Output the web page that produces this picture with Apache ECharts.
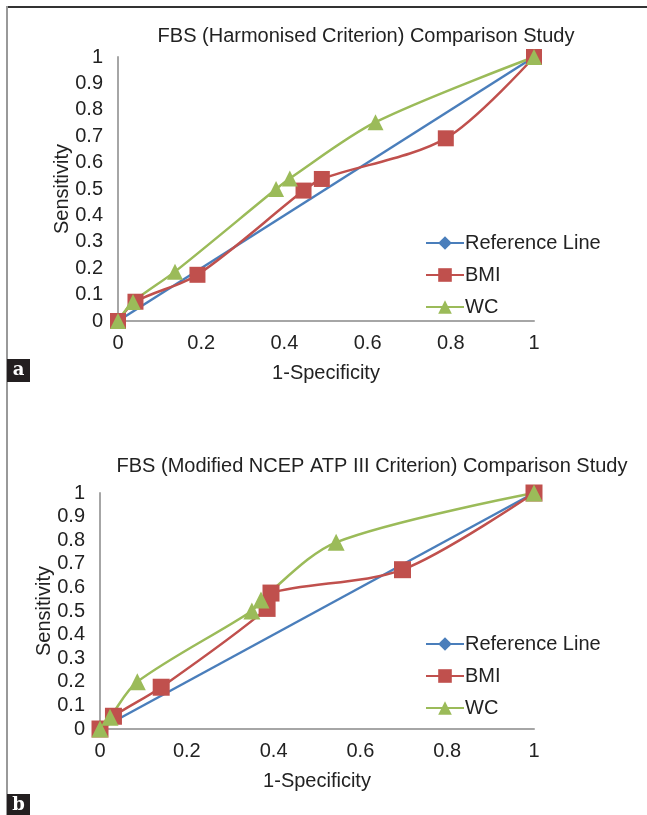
<!DOCTYPE html>
<html>
<head>
<meta charset="utf-8">
<script src="https://cdn.jsdelivr.net/npm/echarts@6/dist/echarts.min.js"></script>
<style>
    html, body { margin: 0; padding: 0; background: #fff; }
    #chart { width: 647px; height: 815px; }
</style>
</head>
<body>
<div id="chart"></div>
<script>
// 数据
var seriesNames = ['Reference Line', 'BMI', 'WC'];

var refX = [0, 1];
var refY = [0, 1];

// a: Harmonised Criterion
var aBmiX = [0, 0.042, 0.191, 0.446, 0.49, 0.788, 1];
var aBmiY = [0, 0.073, 0.175, 0.494, 0.538, 0.692, 1];
var aWcX = [0, 0.036, 0.137, 0.38, 0.413, 0.619, 1];
var aWcY = [0, 0.072, 0.187, 0.5, 0.54, 0.753, 1];

// b: Modified NCEP ATP III Criterion
var bBmiX = [0, 0.031, 0.141, 0.385, 0.394, 0.697, 1];
var bBmiY = [0, 0.054, 0.177, 0.511, 0.576, 0.675, 1];
var bWcX = [0, 0.023, 0.086, 0.35, 0.371, 0.544, 1];
var bWcY = [0, 0.05, 0.2, 0.5, 0.547, 0.791, 1];

function pairs(xs, ys) {
    return xs.map(function (x, i) { return [x, ys[i]]; });
}

var font = 'Liberation Sans';
var fs = 20;
var txt = '#222';
var colors = ['#4a7ebb', '#c0504d', '#9bbb59'];

function xAxisFor(idx) {
    return {
        type: 'value', gridIndex: idx, min: 0, max: 1, interval: 0.2,
        name: '1-Specificity', nameLocation: 'middle', nameGap: 42,
        nameTextStyle: {color: txt, fontSize: fs, fontFamily: font},
        axisLine: {lineStyle: {color: '#a6a6a6', width: 2}},
        axisTick: {show: false},
        splitLine: {show: false},
        axisLabel: {color: txt, fontSize: fs, fontFamily: font, margin: 12}
    };
}
function yAxisFor(idx, gap) {
    return {
        type: 'value', gridIndex: idx, min: 0, max: 1, interval: 0.1,
        name: 'Sensitivity', nameLocation: 'middle', nameGap: gap, nameMoveOverlap: false,
        nameTextStyle: {color: txt, fontSize: fs, fontFamily: font},
        axisLine: {show: true, lineStyle: {color: '#a6a6a6', width: 2}},
        axisTick: {show: false},
        splitLine: {show: false},
        axisLabel: {color: txt, fontSize: fs, fontFamily: font, margin: 15}
    };
}
function lineSeries(name, idx, data, symbol, size, color) {
    return {
        name: name, type: 'line', xAxisIndex: idx, yAxisIndex: idx,
        data: data, smooth: 0.3,
        symbol: symbol, symbolSize: size, showSymbol: true,
        lineStyle: {color: color, width: 2.5},
        itemStyle: {color: color},
        animation: false
    };
}
function legendFor(top) {
    return {
        orient: 'vertical', left: 420, top: top,
        itemWidth: 38, itemHeight: 17, itemGap: 12,
        data: seriesNames,
        textStyle: {color: txt, fontSize: fs, fontFamily: font, padding: [0, 0, 0, -4]},
        selectedMode: false
    };
}

var chart = echarts.init(document.getElementById('chart'), null, {renderer: 'canvas'});

var option = {
    backgroundColor: '#fff',
    animation: false,
    title: [
        {text: 'FBS (Harmonised Criterion) Comparison Study', left: 361, top: 21, textAlign: 'center',
            textStyle: {color: txt, fontSize: fs, fontWeight: 'normal', fontFamily: font}},
        {text: 'FBS (Modified NCEP ATP III Criterion) Comparison Study', left: 367, top: 451, textAlign: 'center',
            textStyle: {color: txt, fontSize: fs, fontWeight: 'normal', fontFamily: font}}
    ],
    grid: [
        {left: 118, top: 57, width: 416, height: 264},
        {left: 100, top: 493, width: 434, height: 236}
    ],
    xAxis: [xAxisFor(0), xAxisFor(1)],
    yAxis: [yAxisFor(0, 46), yAxisFor(1, 46)],
    legend: [legendFor(228), legendFor(629)],
    series: [
        lineSeries('Reference Line', 0, pairs(refX, refY), 'diamond', 12, colors[0]),
        lineSeries('BMI', 0, pairs(aBmiX, aBmiY), 'rect', 16, colors[1]),
        lineSeries('WC', 0, pairs(aWcX, aWcY), 'triangle', 16, colors[2]),
        lineSeries('Reference Line', 1, pairs(refX, refY), 'diamond', 12, colors[0]),
        lineSeries('BMI', 1, pairs(bBmiX, bBmiY), 'rect', 17, colors[1]),
        lineSeries('WC', 1, pairs(bWcX, bWcY), 'triangle', 17, colors[2])
    ],
    graphic: [
        {type: 'line', shape: {x1: 6, y1: 7, x2: 647, y2: 7}, style: {stroke: '#333', lineWidth: 2}},
        {type: 'line', shape: {x1: 7, y1: 6, x2: 7, y2: 815}, style: {stroke: '#999', lineWidth: 2}},
        {type: 'rect', shape: {x: 7, y: 359, width: 23, height: 23}, style: {fill: '#231f20'}},
        {type: 'text', x: 18.5, y: 370.5, style: {text: 'a', fill: '#fff', font: 'bold 18px "DejaVu Serif"', align: 'center', verticalAlign: 'middle'}},
        {type: 'rect', shape: {x: 7, y: 794, width: 23, height: 21}, style: {fill: '#231f20'}},
        {type: 'text', x: 18.5, y: 805, style: {text: 'b', fill: '#fff', font: 'bold 18px "DejaVu Serif"', align: 'center', verticalAlign: 'middle'}}
    ]
};
chart.setOption(option);
</script>
</body>
</html>
